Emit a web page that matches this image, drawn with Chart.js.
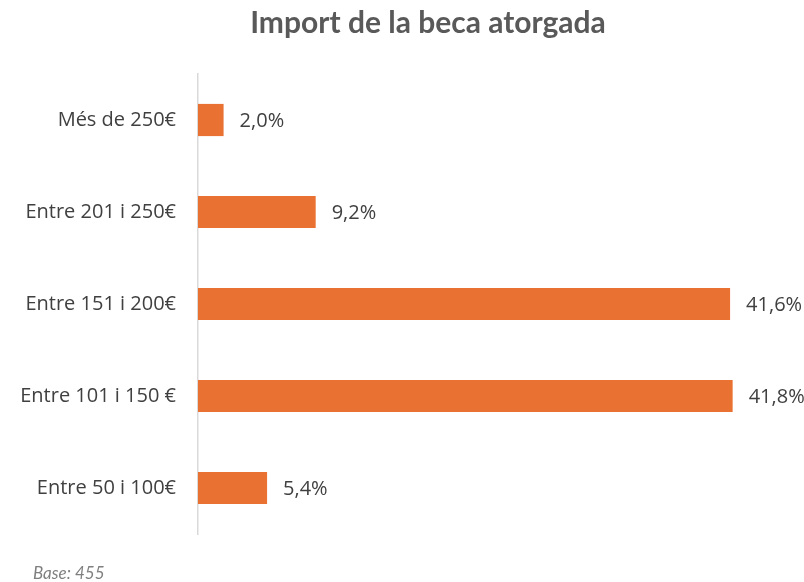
<!DOCTYPE html>
<html>
<head>
<meta charset="utf-8">
<script src="https://cdn.jsdelivr.net/npm/chart.js@4"></script>
<style>
  html, body { margin: 0; padding: 0; background: #fff; }
  #wrap { width: 804px; height: 582px; position: relative; }
</style>
</head>
<body>
<div id="wrap"><canvas id="chart"></canvas></div>
<script>
var chart_title = "Import de la beca atorgada"
var base_note = "Base: 455"
var categories = ["Més de 250€", "Entre 201 i 250€", "Entre 151 i 200€", "Entre 101 i 150 €", "Entre 50 i 100€"]
var percents = [2.0, 9.2, 41.6, 41.8, 5.4]

var label_font = "'Open Sans', 'Liberation Sans', sans-serif"

// draws title, base note and value labels
var extraText = {
    id: "extraText",
    afterDatasetsDraw: function(chart){
        var ctx = chart.ctx
        ctx.save()
        ctx.fillStyle = "#595959"
        ctx.font = "bold 30px 'Lato', 'Liberation Sans', sans-serif"
        ctx.textAlign = "center"
        ctx.textBaseline = "middle"
        ctx.fillText(chart_title, 428, 23)

        ctx.fillStyle = "#7f7f7f"
        ctx.font = "italic 17px 'Lato', 'Liberation Sans', sans-serif"
        ctx.textAlign = "left"
        ctx.fillText(base_note, 33, 574)

        ctx.fillStyle = "#404040"
        ctx.font = "20px " + label_font
        var meta = chart.getDatasetMeta(0)
        for (var i = 0; i < meta.data.length; i++){
            var bar = meta.data[i]
            var txt = percents[i].toFixed(1).replace(".", ",") + "%"
            ctx.fillText(txt, bar.x + 16, bar.y + 1)
        }
        ctx.restore()
    }
}

var ctx = document.getElementById("chart").getContext("2d")
var chart = new Chart(ctx, {
    type: "bar",
    data: {
        labels: categories,
        datasets: [{
            data: percents,
            backgroundColor: "#E97132",
            barPercentage: 0.35,
            categoryPercentage: 1
        }]
    },
    options: {
        indexAxis: "y",
        responsive: true,
        maintainAspectRatio: false,
        animation: false,
        layout: { padding: { top: 74, bottom: 48, left: 0, right: 1 } },
        plugins: {
            legend: { display: false },
            tooltip: { enabled: false },
            title: { display: false }
        },
        scales: {
            x: {
                display: false,
                min: 0,
                max: 47.3
            },
            y: {
                grid: { display: false, drawTicks: false },
                border: { display: true, color: "#d9d9d9", width: 1.5 },
                ticks: {
                    padding: 22,
                    color: "#404040",
                    font: { family: label_font, size: 20 }
                },
                afterFit: function(scale){ scale.width = 198 }
            }
        }
    },
    plugins: [extraText]
})
</script>
</body>
</html>
